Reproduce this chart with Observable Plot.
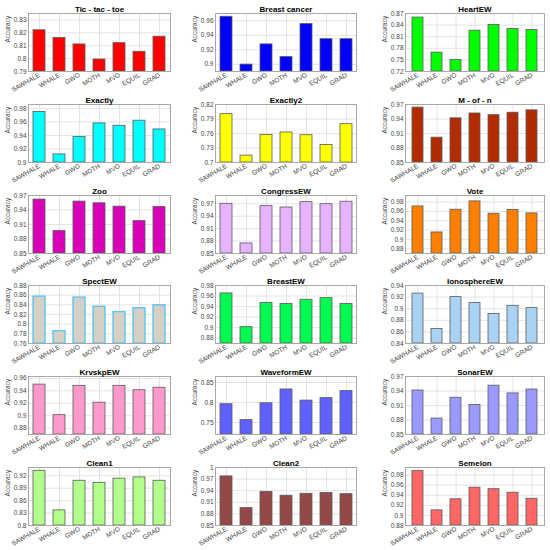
<!DOCTYPE html>
<html><head><meta charset="utf-8">
<script src="https://cdn.jsdelivr.net/npm/d3@7"></script>
<script src="https://cdn.jsdelivr.net/npm/@observablehq/plot@0.6"></script>
<style>
body{margin:0;background:#fff;}
#fig{position:relative;width:550px;height:550px;overflow:hidden;background:#fff;}
#fig svg{position:absolute;overflow:visible;}
</style></head><body><div id="fig"></div>
<script>
const methods = ["SAWHALE","WHALE","GWO","MOTH","MVO","EQUIL","GRAD"];
const titles = ["Tic - tac - toe","Breast cancer","HeartEW","Exactly","Exactly2","M - of - n",
  "Zoo","CongressEW","Vote","SpectEW","BreastEW","IonosphereEW",
  "KrvskpEW","WaveformEW","SonarEW","Clean1","Clean2","Semeion"];

const ticTacToe    = [0.822, 0.816, 0.811, 0.7993, 0.812, 0.8053, 0.817];
const breastCancer = [0.9655, 0.8995, 0.9274, 0.910, 0.9554, 0.9346, 0.9346];
const heartEW      = [0.8595, 0.7688, 0.750, 0.8255, 0.8403, 0.830, 0.8273];
const exactly      = [0.975, 0.912, 0.938, 0.958, 0.9545, 0.962, 0.949];
const exactly2     = [0.800, 0.7143, 0.757, 0.7621, 0.7564, 0.7364, 0.7793];
const mOfN         = [0.9636, 0.9014, 0.9414, 0.9514, 0.9479, 0.953, 0.9579];
const zoo          = [0.9616, 0.8963, 0.9574, 0.9539, 0.9469, 0.917, 0.9462];
const congressEW   = [0.970, 0.8743, 0.9643, 0.961, 0.974, 0.969, 0.975];
const vote         = [0.9706, 0.915, 0.9636, 0.9814, 0.955, 0.963, 0.9557];
const spectEW      = [0.857, 0.7855, 0.855, 0.836, 0.825, 0.833, 0.839];
const breastEW     = [0.965, 0.901, 0.947, 0.945, 0.953, 0.956, 0.945];
const ionosphereEW = [0.926, 0.865, 0.920, 0.910, 0.891, 0.905, 0.901];
const krvskpEW     = [0.950, 0.901, 0.948, 0.921, 0.948, 0.941, 0.945];
const waveformEW   = [0.7957, 0.756, 0.798, 0.8326, 0.8048, 0.811, 0.829];
const sonarEW      = [0.941, 0.883, 0.926, 0.911, 0.951, 0.935, 0.943];
const clean1       = [0.932, 0.8365, 0.908, 0.903, 0.913, 0.916, 0.908];
const clean2       = [0.977, 0.895, 0.937, 0.927, 0.932, 0.934, 0.931];
const semeion      = [0.988, 0.910, 0.932, 0.955, 0.952, 0.945, 0.933];

const accuracies = [ticTacToe, breastCancer, heartEW, exactly, exactly2, mOfN,
  zoo, congressEW, vote, spectEW, breastEW, ionosphereEW,
  krvskpEW, waveformEW, sonarEW, clean1, clean2, semeion];

const yDomains = [[0.79,0.835],[0.89,0.97],[0.72,0.87],[0.9,0.986],[0.7,0.82],[0.85,0.97],
  [0.85,0.97],[0.85,0.99],[0.87,0.994],[0.76,0.88],[0.87,0.98],[0.84,0.94],
  [0.87,0.963],[0.72,0.865],[0.85,0.97],[0.8,0.94],[0.85,1],[0.88,0.995]];

const yTicks = [
  [0.79,0.8,0.81,0.82,0.83],
  [0.9,0.92,0.94,0.96],
  [0.72,0.75,0.78,0.81,0.84,0.87],
  [0.9,0.92,0.94,0.96,0.98],
  [0.7,0.73,0.76,0.79,0.82],
  [0.85,0.88,0.91,0.94,0.97],
  [0.85,0.88,0.91,0.94,0.97],
  [0.85,0.88,0.91,0.94,0.97],
  [0.88,0.9,0.92,0.94,0.96,0.98],
  [0.76,0.78,0.8,0.82,0.84,0.86,0.88],
  [0.88,0.9,0.92,0.94,0.96,0.98],
  [0.84,0.86,0.88,0.9,0.92,0.94],
  [0.88,0.9,0.92,0.94,0.96],
  [0.75,0.8,0.85],
  [0.85,0.88,0.91,0.94,0.97],
  [0.8,0.83,0.86,0.89,0.92],
  [0.85,0.88,0.91,0.94,0.97,1],
  [0.88,0.9,0.92,0.94,0.96,0.98]
];

const fills = ["#FF0000","#0000FF","#00FF00","#00FFFF","#FFFF00","#B22C00",
  "#D900B8","#E6B3FF","#FF8000","#D6CFC4","#00FA50","#A9D3F5",
  "#FF99CC","#6060FF","#9999FF","#B3FF8C","#944848","#FF6666"];
const edges = fills.map((f, i) => i === 9 ? "#5CC6F2" : "#5a5a5a");

const colPlotLeft = [28, 215, 405];
const colPlotWidth = [142, 141, 139];
const rowStep = 90.8, firstTop = 13, plotH = 58;
const mL = 28, mR = 6, mT = 13, mB = 19;
const fmt = d3.format("~g");
const fig = document.getElementById("fig");

titles.forEach((title, i) => {
  const r = Math.floor(i / 3), c = i % 3;
  const rows = methods.map((m, k) => ({method: m, acc: accuracies[i][k]}));
  const dom = yDomains[i];
  const svg = Plot.plot({
    width: mL + colPlotWidth[c] + mR,
    height: mT + plotH + mB,
    marginLeft: mL, marginRight: mR, marginTop: mT, marginBottom: mB,
    style: {fontFamily: "Liberation Sans, Arial, sans-serif", fontSize: "7px", background: "transparent", overflow: "visible"},
    x: {domain: methods, paddingInner: 0.4, paddingOuter: 0.2, label: null},
    y: {domain: dom, label: null},
    marks: [
      Plot.gridY(yTicks[i], {stroke: "#e4e4e4", strokeOpacity: 1}),
      Plot.gridX({stroke: "#e4e4e4", strokeOpacity: 1}),
      Plot.barY(rows, {x: "method", y1: dom[0], y2: "acc", fill: fills[i], stroke: edges[i], strokeWidth: i === 9 ? 1.4 : 0.8}),
      Plot.frame({stroke: "#a8a8a8"}),
      Plot.axisY(yTicks[i], {tickSize: 0, tickPadding: 2, tickFormat: fmt, fontSize: 6.5, fill: "#444", label: null}),
      Plot.axisX({tickRotate: -30, tickSize: 0, tickPadding: 3, fontSize: 6.5, fill: "#444", label: null}),
      Plot.text([title], {frameAnchor: "top", dy: -7, fontWeight: "bold", fontSize: 8, fill: "#000"}),
      Plot.text(["Accuracy"], {frameAnchor: "left", rotate: -90, dx: -21, fontSize: 6.5, fill: "#444"})
    ]
  });
  svg.style.left = (colPlotLeft[c] - mL) + "px";
  svg.style.top = (firstTop + rowStep * r - mT) + "px";
  fig.appendChild(svg);
});
</script></body></html>
